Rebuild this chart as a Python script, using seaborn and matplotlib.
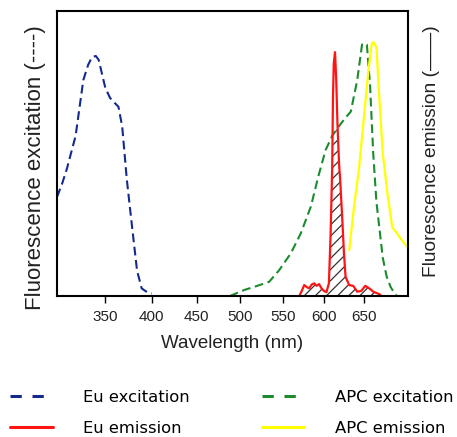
import numpy as np
import matplotlib
matplotlib.use('Agg')
import matplotlib.pyplot as plt
from matplotlib.lines import Line2D
import seaborn as sns

sns.set_style("white")
plt.rcParams['font.family'] = ['Liberation Sans', 'DejaVu Sans']
plt.rcParams['hatch.linewidth'] = 0.9
plt.rcParams['text.color'] = 'black'
plt.rcParams['axes.labelcolor'] = 'black'
plt.rcParams['xtick.color'] = 'black'

# Eu excitation (blue dashed)
eu_ex_wl = [300, 305, 310, 319, 327, 332, 336, 340, 343, 350, 355, 360, 364, 368, 373, 379, 384, 389, 395, 400]
eu_ex = [0.39, 0.44, 0.50, 0.63, 0.85, 0.91, 0.94, 0.945, 0.93, 0.82, 0.78, 0.76, 0.745, 0.667, 0.457, 0.26, 0.10, 0.03, 0.015, 0.01]

# Eu emission (red solid)
eu_em_wl = [570, 573, 576, 579, 582, 585, 588, 591, 594, 597, 600, 603, 606, 608, 610, 611, 612, 613.5,
            615, 616.5, 618.5, 620, 622.5, 624.5, 626.5, 631, 636, 641, 646, 651, 656, 661, 665, 670]
eu_em = [0.0, 0.02, 0.043, 0.035, 0.03, 0.045, 0.05, 0.04, 0.047, 0.03, 0.02, 0.015, 0.05, 0.233, 0.496, 0.785,
         0.916, 0.96, 0.85, 0.68, 0.52, 0.45, 0.3, 0.17, 0.076, 0.043, 0.04, 0.017, 0.02, 0.04, 0.03, 0.017, 0.012, 0.005]

# APC excitation (green dashed)
apc_ex_wl = [488, 505, 520, 534, 546, 560, 572, 584, 593, 602, 610, 618, 626, 633, 641, 647, 650, 653,
             657, 661, 665, 669, 673, 678, 683, 688, 691]
apc_ex = [0.0, 0.024, 0.04, 0.056, 0.102, 0.169, 0.248, 0.352, 0.47, 0.575, 0.63, 0.667, 0.70, 0.726, 0.85,
          0.99, 0.995, 0.99, 0.83, 0.56, 0.37, 0.26, 0.15, 0.075, 0.035, 0.01, 0.0]

# APC emission (yellow solid)
apc_em_wl = [631, 637, 643, 649, 655, 659, 661, 665, 669, 673, 679, 685, 691, 697, 705]
apc_em = [0.18, 0.352, 0.496, 0.693, 0.89, 0.99, 1.0, 0.98, 0.76, 0.56, 0.40, 0.27, 0.247, 0.22, 0.19]

xticks = [350, 400, 450, 500, 550, 600, 650]

c_eu_ex = '#142a8c'
c_eu_em = '#ff1414'
c_apc_ex = '#1a8c2e'
c_apc_em = '#ffff00'

fig = plt.figure(figsize=(4.57, 4.37), dpi=100)
ax = fig.add_axes([57 / 457, 1 - 296 / 437, 351 / 457, 285 / 437])

# spectral overlap between Eu emission and APC excitation
grid = np.linspace(565, 695, 1500)
overlap = np.minimum(np.interp(grid, eu_em_wl, eu_em, left=0, right=0),
                     np.interp(grid, apc_ex_wl, apc_ex, left=0, right=0))
ax.fill_between(grid, 0, overlap, facecolor='none', edgecolor='#333333', hatch='///', linewidth=0)

dash = (0, (4.2, 2.2))
sns.lineplot(x=eu_ex_wl, y=eu_ex, ax=ax, color=c_eu_ex, lw=1.5, linestyle=dash, sort=False, estimator=None)
sns.lineplot(x=apc_ex_wl, y=apc_ex, ax=ax, color=c_apc_ex, lw=1.5, linestyle=dash, sort=False, estimator=None)
sns.lineplot(x=apc_em_wl, y=apc_em, ax=ax, color=c_apc_em, lw=1.6, sort=False, estimator=None)
sns.lineplot(x=eu_em_wl, y=eu_em, ax=ax, color=c_eu_em, lw=1.6, sort=False, estimator=None)

# wavelength axis is slightly compressed toward the red end
ax.set_xscale('function', functions=(lambda x: np.power(np.maximum(x, 1e-6), 0.73),
                                     lambda x: np.power(np.maximum(x, 1e-6), 1 / 0.73)))
ax.set_xlim(300, 705)
ax.set_ylim(0, 1.122)
ax.set_xticks(xticks)
ax.set_xticklabels([str(t) for t in xticks])
ax.minorticks_off()
ax.set_yticks([])
ax.tick_params(axis='x', direction='out', length=5, width=1, pad=5, labelsize=11, bottom=True,
               colors='black', labelcolor='#222222')
for s in ax.spines.values():
    s.set_linewidth(1.5)
    s.set_color('black')
ax.set_xlabel('Wavelength (nm)', fontsize=13.5, labelpad=8, color='#222222')
ax.set_ylabel('')

fig.text(35.5 / 457, 1 - 25 / 437, 'Fluorescence excitation (----)', rotation=90,
         ha='center', va='top', fontsize=16, color='#222222')
fig.text(431 / 457, 1 - 25 / 437, 'Fluorescence emission (\u2014\u2014)', rotation=90,
         ha='center', va='top', fontsize=13.8, color='#222222')

ldash = (0, (3.7, 3.5))
handles = [Line2D([], [], color=c_eu_ex, lw=2.2, linestyle=ldash),
           Line2D([], [], color=c_eu_em, lw=2.2),
           Line2D([], [], color=c_apc_ex, lw=2.2, linestyle=ldash),
           Line2D([], [], color=c_apc_em, lw=2.2)]
labels = ['Eu excitation', 'Eu emission', 'APC excitation', 'APC emission']
fig.legend(handles, labels, ncol=2, loc='upper left', bbox_to_anchor=(10 / 457, 1 - 390 / 437),
           frameon=False, prop={'family': 'DejaVu Sans', 'size': 11.8},
           handlelength=2.6, handletextpad=1.85, columnspacing=4.4, labelspacing=0.95,
           borderpad=0, borderaxespad=0)

fig.savefig('out.png', dpi=100)
